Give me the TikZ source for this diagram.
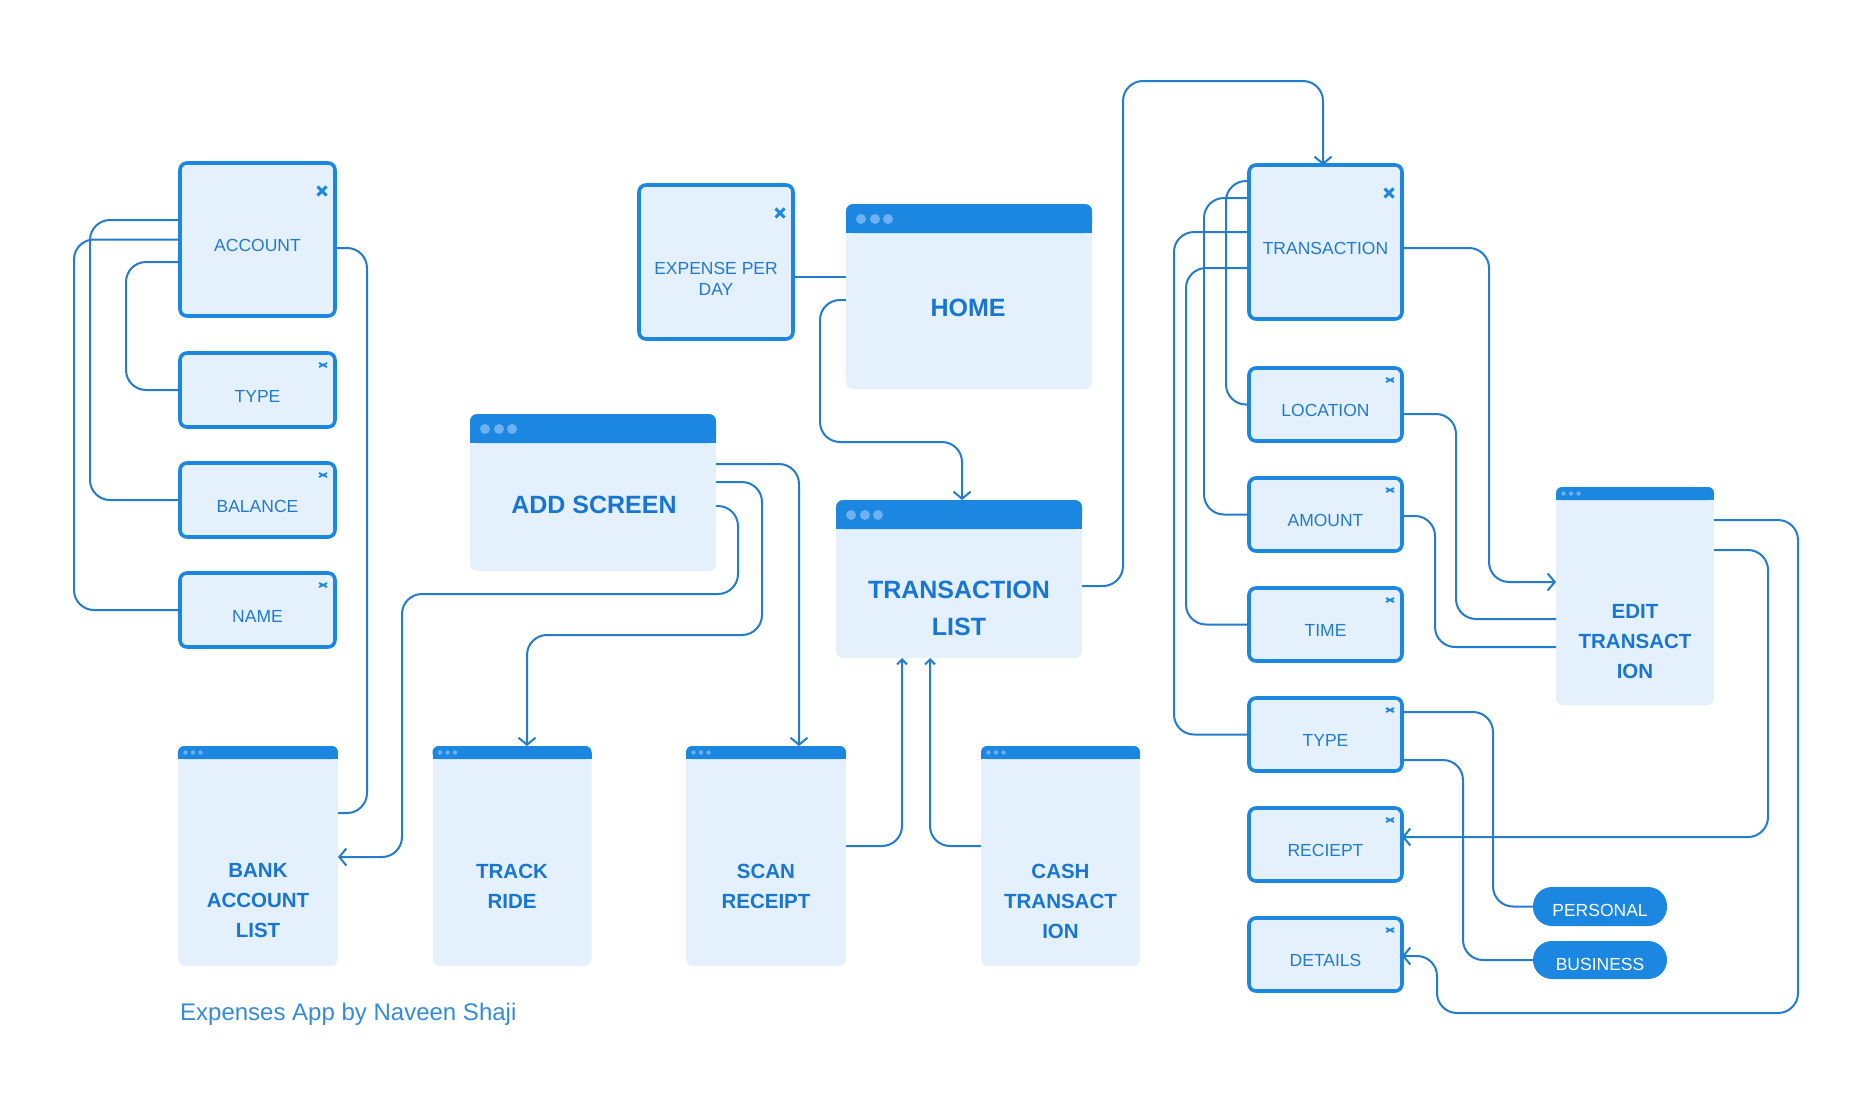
\documentclass[tikz,border=0pt]{standalone}
\usepackage{fontspec}
\setmainfont{Liberation Sans}
\usetikzlibrary{arrows.meta}
\definecolor{hdr}{RGB}{27,135,224}
\definecolor{bodyc}{RGB}{228,241,253}
\definecolor{linec}{RGB}{36,124,204}
\definecolor{txtc}{RGB}{34,122,204}
\definecolor{boldc}{RGB}{24,118,210}
\definecolor{dotc}{RGB}{110,176,240}
\definecolor{footc}{RGB}{52,140,214}
\tikzset{
  sbox/.style={draw=hdr, line width=3.6pt, fill=bodyc, rounded corners=7pt, inner sep=0pt, outer sep=0pt,
    text=txtc, font=\fontsize{17.5}{21}\selectfont, text height=24.5pt, text depth=0pt},
  scr/.style={fill=bodyc, rounded corners=7pt, inner sep=0pt, outer sep=0pt},
  smalltxt/.style={text=txtc, font=\fontsize{17.5}{21}\selectfont, inner sep=0pt},
  bigtxt/.style={text=boldc, font=\bfseries\fontsize{25}{37}\selectfont, inner sep=0pt, align=center},
  midtxt/.style={text=boldc, font=\bfseries\fontsize{20.5}{30}\selectfont, inner sep=0pt, align=center},
  pill/.style={fill=hdr, text=white, rounded corners=19pt, inner sep=0pt, outer sep=0pt,
    font=\fontsize{17.5}{21}\selectfont, minimum width=134pt, text height=20pt, text depth=0pt},
  conn/.style={draw=linec, line width=2pt, rounded corners=20pt},
  arr/.style={-{Straight Barb[length=7pt,width=17pt]}},
  arrs/.style={-{Straight Barb[length=5pt,width=10pt]}},
  xbig/.style={draw=hdr, line width=3pt},
  xsm/.style={draw=hdr, line width=1.8pt},
  foot/.style={text=footc, font=\fontsize{24}{28}\selectfont, inner sep=0pt}
}
\newcommand\mybigx[1]{\draw[xbig] ([xshift=-17.5pt,yshift=-23.5pt]#1.north east) -- ++(9pt,-9pt)
  ([xshift=-17.5pt,yshift=-32.5pt]#1.north east) -- ++(9pt,9pt);}
\newcommand\mysmx[1]{\draw[xsm] ([xshift=-16pt,yshift=-10pt]#1.north east) -- ++(8pt,-4pt)
  ([xshift=-16pt,yshift=-14pt]#1.north east) -- ++(8pt,4pt);}
\newcommand\myhdrbig[1]{%
  \fill[hdr, rounded corners=7pt] (#1.north west) rectangle ([yshift=-29pt]#1.north east);
  \fill[hdr] ([yshift=-15pt]#1.north west) rectangle ([yshift=-29pt]#1.north east);
  \fill[dotc] ([xshift=15pt,yshift=-15pt]#1.north west) circle (5pt)
              ([xshift=29pt,yshift=-15pt]#1.north west) circle (5pt)
              ([xshift=42pt,yshift=-15pt]#1.north west) circle (5pt);}
\newcommand\myhdrsmall[1]{%
  \fill[hdr, rounded corners=6pt] (#1.north west) rectangle ([yshift=-13pt]#1.north east);
  \fill[hdr] ([yshift=-7pt]#1.north west) rectangle ([yshift=-13pt]#1.north east);
  \fill[dotc] ([xshift=7.5pt,yshift=-6.5pt]#1.north west) circle (2.2pt)
              ([xshift=15pt,yshift=-6.5pt]#1.north west) circle (2.2pt)
              ([xshift=22.5pt,yshift=-6.5pt]#1.north west) circle (2.2pt);}
\begin{document}
\begin{tikzpicture}[x=1pt,y=-1pt]
\fill[white] (0,0) rectangle (1876,1092);
\useasboundingbox (0,0) rectangle (1876,1092);

% ---------- left column ----------
\node[sbox, minimum width=155pt, minimum height=153pt] (acc) at (257.5,239.5) {ACCOUNT};
\node[sbox, minimum width=155pt, minimum height=74pt] (ltype) at (257.5,390) {TYPE};
\node[sbox, minimum width=155pt, minimum height=74pt] (bal) at (257.5,500) {BALANCE};
\node[sbox, minimum width=155pt, minimum height=74pt] (name) at (257.5,610) {NAME};
\mybigx{acc}
\mysmx{ltype}\mysmx{bal}\mysmx{name}

% ---------- expense per day ----------
\node[sbox, minimum width=154pt, minimum height=154pt] (exp) at (716,262) {};
\node[smalltxt, align=center] (expt) at (716,278.5) {EXPENSE PER\\DAY};
\mybigx{exp}

% ---------- screens ----------
\node[scr, minimum width=246pt, minimum height=185pt] (home) at (969,296.5) {};
\myhdrbig{home}
\node[bigtxt] (homet) at (968,308) {HOME};

\node[scr, minimum width=246pt, minimum height=157pt] (addscr) at (593,492.5) {};
\myhdrbig{addscr}
\node[bigtxt] (addt) at (594,505) {ADD SCREEN};

\node[scr, minimum width=246pt, minimum height=158pt] (tlist) at (959,579) {};
\myhdrbig{tlist}
\node[bigtxt] (tlt) at (959,608.5) {TRANSACTION\\LIST};

\node[scr, minimum width=160pt, minimum height=220pt] (bank) at (258,856) {};
\myhdrsmall{bank}
\node[midtxt] (bankt) at (258,901) {BANK\\ACCOUNT\\LIST};

\node[scr, minimum width=159pt, minimum height=220pt] (track) at (512,856) {};
\myhdrsmall{track}
\node[midtxt] (trackt) at (512,886) {TRACK\\RIDE};

\node[scr, minimum width=160pt, minimum height=220pt] (scan) at (766,856) {};
\myhdrsmall{scan}
\node[midtxt] (scant) at (766,886) {SCAN\\RECEIPT};

\node[scr, minimum width=159pt, minimum height=220pt] (cash) at (1060.5,856) {};
\myhdrsmall{cash}
\node[midtxt] (casht) at (1060.5,901) {CASH\\TRANSACT\\ION};

\node[scr, minimum width=158pt, minimum height=218pt] (edit) at (1635,596) {};
\myhdrsmall{edit}
\node[midtxt] (editt) at (1635,641.5) {EDIT\\TRANSACT\\ION};

% ---------- right column ----------
\node[sbox, minimum width=153pt, minimum height=154pt] (trans) at (1325.5,242) {TRANSACTION};
\node[sbox, minimum width=153pt, minimum height=73pt] (loc) at (1325.5,404.5) {LOCATION};
\node[sbox, minimum width=153pt, minimum height=73pt] (amt) at (1325.5,514.5) {AMOUNT};
\node[sbox, minimum width=153pt, minimum height=73pt] (time) at (1325.5,624.5) {TIME};
\node[sbox, minimum width=153pt, minimum height=73pt] (rtype) at (1325.5,734.5) {TYPE};
\node[sbox, minimum width=153pt, minimum height=73pt] (rec) at (1325.5,844.5) {RECIEPT};
\node[sbox, minimum width=153pt, minimum height=73pt] (det) at (1325.5,954.5) {DETAILS};
\mybigx{trans}
\mysmx{loc}\mysmx{amt}\mysmx{time}\mysmx{rtype}\mysmx{rec}\mysmx{det}

\node[pill, minimum height=39pt] (pers) at (1600,906.5) {PERSONAL};
\node[pill, minimum height=38pt] (bus) at (1600,960) {BUSINESS};

% ---------- footer ----------
\node[foot, anchor=base west] (footer) at (180,1020) {Expenses App by Naveen Shaji};

% ---------- connectors ----------
\draw[conn] ([yshift=-22.5pt]acc.west) -- (126,262) -- (126,390) -- (ltype.west);
\draw[conn] ([yshift=19.5pt]acc.west) -- (90,220) -- (90,500) -- (bal.west);
\draw[conn] (acc.west) -- (74,239.5) -- (74,610) -- (name.west);
\draw[conn] ([yshift=-8.5pt]acc.east) -- (367,248) -- (367,813) -- ([yshift=43pt]bank.east);

\draw[conn] ([yshift=-15pt]exp.east) -- ([yshift=-15pt]exp.east -| home.west);
\draw[conn, arr] ([yshift=-3.5pt]home.west) -- (820,300) -- (820,442) -- (962,442) -- ([xshift=3pt]tlist.north);

\draw[conn, arr] ([yshift=28.5pt]addscr.east) -- (799,464) -- ([xshift=33pt]scan.north);
\draw[conn, arr] ([yshift=10.5pt]addscr.east) -- (762,482) -- (762,635) -- (527,635) -- ([xshift=15pt]track.north);
\draw[conn, arr] ([yshift=-13.5pt]addscr.east) -- (738,506) -- (738,594) -- (402,594) -- (402,857) -- ([yshift=-1pt]bank.east);

\draw[conn, arrs] ([yshift=10pt]scan.east) -- (902,846) -- ([xshift=-57pt]tlist.south);
\draw[conn, arrs] ([yshift=10pt]cash.west) -- (930,846) -- ([xshift=-29pt]tlist.south);

\draw[conn, arr] ([yshift=-7pt]tlist.east) -- (1123,586) -- (1123,81) -- (1323,81) -- ([xshift=-2.5pt]trans.north);

\draw[conn] ([yshift=61pt]trans.west) -- (1226,181) -- (1226,404.5) -- (loc.west);
\draw[conn] ([yshift=44pt]trans.west) -- (1204,198) -- (1204,514.5) -- (amt.west);
\draw[conn] ([yshift=10pt]trans.west) -- (1174,232) -- (1174,734.5) -- (rtype.west);
\draw[conn] ([yshift=-26pt]trans.west) -- (1186,268) -- (1186,624.5) -- (time.west);

\draw[conn, arr] ([yshift=-6pt]trans.east) -- (1489,248) -- (1489,582) -- ([yshift=14pt]edit.west);
\draw[conn] ([yshift=-9.5pt]loc.east) -- (1456,414) -- (1456,619) -- ([yshift=-23pt]edit.west);
\draw[conn] ([yshift=-1.5pt]amt.east) -- (1435,516) -- (1435,647) -- ([yshift=-51pt]edit.west);

\draw[conn, arr] ([yshift=76pt]edit.east) -- (1798,520) -- (1798,1013) -- (1437,1013) -- (1437,956) -- ([yshift=-1.5pt]det.east);
\draw[conn, arr] ([yshift=46pt]edit.east) -- (1768,550) -- (1768,837) -- ([yshift=7.5pt]rec.east);

\draw[conn] ([yshift=22.5pt]rtype.east) -- (1493,712) -- (1493,906.5) -- (pers.west);
\draw[conn] ([yshift=-25.5pt]rtype.east) -- (1463,760) -- (1463,960) -- (bus.west);
\end{tikzpicture}
\end{document}
